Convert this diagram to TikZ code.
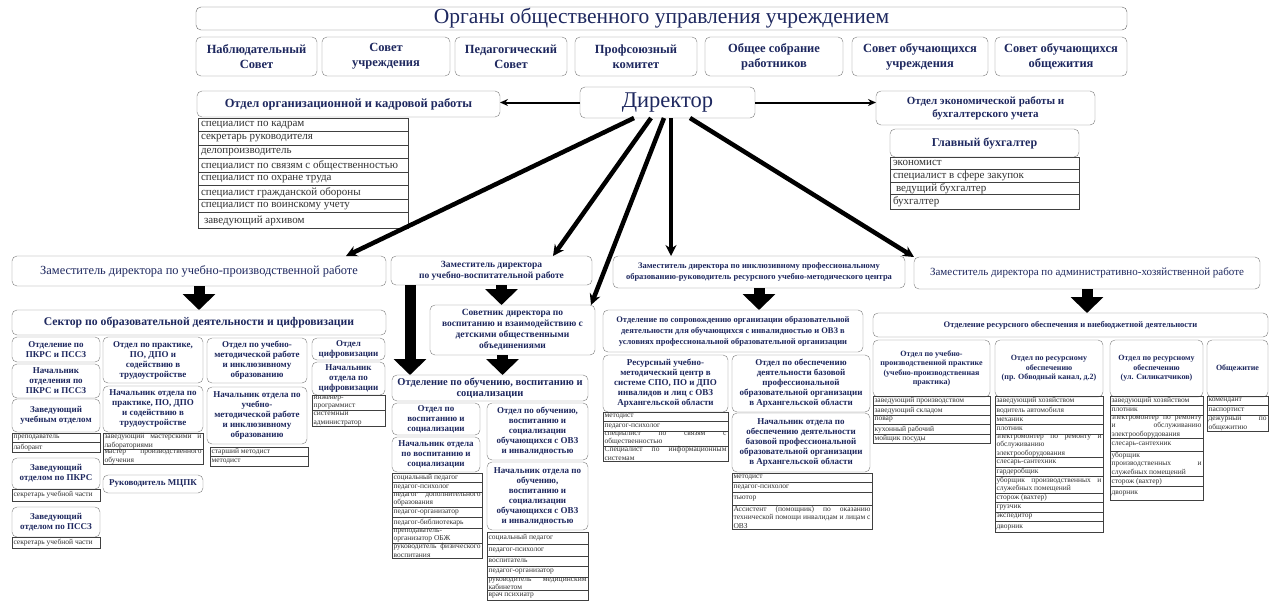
\documentclass[tikz,border=0pt]{standalone}
\usepackage{fontspec}
\setmainfont{Liberation Serif}
\usetikzlibrary{positioning,arrows.meta}
\definecolor{navy}{RGB}{30,40,95}
\definecolor{frame}{RGB}{125,125,125}
\definecolor{ink}{RGB}{50,50,50}
\newcommand{\fsz}[2]{\fontsize{#1}{#2}\selectfont}
\hyphenpenalty=10000

\begin{document}
\begin{tikzpicture}[x=1pt, y=-1pt]
	\tikzstyle{Block} = [draw=frame, rounded corners=5pt, fill=white, align=center, text=navy, font=\fsz{9}{10}\bfseries, inner sep=1pt, outer sep=0pt, anchor=north west]
	\tikzstyle{Gov} = [Block, minimum height=39pt, font=\fsz{12.5}{15}\bfseries]
	\tikzstyle{Hxs} = [Block, minimum height=57pt, font=\fsz{8}{9.5}\bfseries]
	\tikzstyle{Item} = [draw=black!75, align=justify, text=ink, font=\fsz{7.5}{8.4}, inner xsep=1.5pt, inner ysep=0.7pt, outer sep=0pt, minimum height=9.5pt, anchor=north west]
	\tikzstyle{TopItem} = [Item, font=\fsz{11}{12.5}, inner xsep=3pt, minimum height=13.5pt]
	\tikzstyle{Link} = [line width=4.5pt, -{Stealth[length=11pt, width=11pt]}]
	\tikzstyle{Side} = [line width=2pt, -{Stealth[length=8pt, width=7pt]}]
	\tikzstyle{Drop} = [line width=11pt, -{Triangle[length=16pt, width=32pt]}]
	\tikzset{bx/.style 2 args={minimum width=#1pt, minimum height=#2pt}}

	\fill[white] (0,0) rectangle (1274,606);
	\useasboundingbox (0,0) rectangle (1274,606);

	% governing bodies
	\node[name=organs, Block, bx={931}{23}, draw=black!60, font=\fsz{21.5}{22}] at (196,7) {Органы общественного управления учреждением};
	\node[name=nabl, Gov, minimum width=121pt] at (196,37) {Наблюдательный\\Совет};
	\node[name=sovu, Gov, minimum width=128pt] at (322,37) {Совет\\учреждения};
	\node[name=pedsov, Gov, minimum width=112pt] at (455,37) {Педагогический\\Совет};
	\node[name=prof, Gov, minimum width=122pt] at (575,37) {Профсоюзный\\комитет};
	\node[name=sobr, Gov, minimum width=138pt] at (705,37) {Общее собрание\\работников};
	\node[name=souch, Gov, minimum width=136pt] at (852,37) {Совет обучающихся\\учреждения};
	\node[name=soobsh, Gov, minimum width=132pt] at (995,37) {Совет обучающихся\\общежития};

	% director
	\node[name=dir, Block, bx={175}{31}, font=\fsz{22.5}{24}] at (580,87) {Директор};

	\node[name=kadry, Block, bx={303}{26}, font=\fsz{12.5}{14}\bfseries] at (197,91) {Отдел организационной и кадровой работы};
	\node[name=k1, TopItem, text width=204pt] at (198,118) {специалист по кадрам};
	\node[name=k2, TopItem, text width=204pt, below=0pt of k1] {секретарь руководителя};
	\node[name=k3, TopItem, text width=204pt, below=0pt of k2] {делопроизводитель};
	\node[name=k4, TopItem, text width=204pt, below=0pt of k3] {специалист по связям с общественностью};
	\node[name=k5, TopItem, text width=204pt, below=0pt of k4] {специалист по охране труда};
	\node[name=k6, TopItem, text width=204pt, below=0pt of k5] {специалист гражданской обороны};
	\node[name=k7, TopItem, text width=204pt, below=0pt of k6] {специалист по воинскому учету};
	\node[name=k8, TopItem, text width=204pt, minimum height=16pt, below=0pt of k7] {\hspace*{3pt}заведующий архивом};

	\node[name=econ, Block, bx={219}{34}, font=\fsz{11}{13}\bfseries] at (876,91) {Отдел экономической работы и\\бухгалтерского учета};
	\node[name=glavbuh, Block, bx={189}{28}, font=\fsz{12}{14}\bfseries] at (890,129) {Главный бухгалтер};
	\node[name=b1, TopItem, text width=183pt, minimum height=12.5pt] at (890,157) {экономист};
	\node[name=b2, TopItem, text width=183pt, minimum height=12.5pt, below=0pt of b1] {специалист в сфере закупок};
	\node[name=b3, TopItem, text width=183pt, minimum height=12.5pt, below=0pt of b2] {\hspace*{3pt}ведущий бухгалтер};
	\node[name=b4, TopItem, text width=183pt, minimum height=15pt, below=0pt of b3] {бухгалтер};

	\draw[Side] (dir.west) -- (dir.west -| kadry.east);
	\draw[Side] (dir.east) -- (dir.east -| econ.west);

	% deputies
	\node[name=zupr, Block, bx={374}{30}, font=\fsz{12.4}{14}\mdseries] at (12,256) {Заместитель директора по учебно-производственной работе};
	\node[name=zuvr, Block, bx={201}{29}, font=\fsz{9.5}{11}\bfseries] at (391,256) {Заместитель директора\\по учебно-воспитательной работе};
	\node[name=zinc, Block, bx={292}{32}, font=\fsz{8.5}{11}\bfseries] at (613,256) {Заместитель директора по инклюзивному профессиональному\\образованию-руководитель ресурсного учебно-методического центра};
	\node[name=zahr, Block, bx={346}{32}, font=\fsz{11}{13}\mdseries] at (914,257) {Заместитель директора по административно-хозяйственной работе};

	% sector of educational activity
	\node[name=sector, Block, bx={374}{25}, font=\fsz{11.7}{13}\bfseries] at (12,310) {Сектор по образовательной деятельности и цифровизации};

	\node[name=otdpk, Block, bx={88}{25}] at (12,337) {Отделение по\\ПКРС и ПССЗ};
	\node[name=natpk, Block, bx={88}{34}] at (12,364) {Начальник\\отделения по\\ПКРС и ПССЗ};
	\node[name=zavuch, Block, bx={88}{33}] at (12,399) {Заведующий\\учебным отделом};
	\node[name=prep, Item, text width=85pt] at (12,433) {преподаватель};
	\node[name=labor, Item, text width=85pt, below=0pt of prep] {лаборант};
	\node[name=zavpk, Block, bx={88}{31}] at (12,458) {Заведующий\\отделом по ПКРС};
	\node[name=sek1, Item, text width=85pt, minimum height=12pt] at (12,489) {секретарь учебной части};
	\node[name=zavps, Block, bx={88}{30}] at (12,507) {Заведующий\\отделом по ПССЗ};
	\node[name=sek2, Item, text width=85pt, minimum height=11pt] at (12,537) {секретарь учебной части};

	\node[name=otdprak, Block, bx={100}{46}] at (103,337) {Отдел по практике,\\ПО, ДПО и\\содействию в\\трудоустройстве};
	\node[name=natprak, Block, bx={100}{46}] at (103,386) {Начальник отдела по\\практике, ПО, ДПО\\и содействию в\\трудоустройстве};
	\node[name=zavmast, Item, text width=97pt] at (103,433) {заведующий мастерскими и лабораториями};
	\node[name=mastpo, Item, text width=97pt, below=0pt of zavmast] {мастер производственного обучения};
	\node[name=rukmc, Block, bx={100}{18}] at (103,475) {Руководитель МЦПК};

	\node[name=otdmet, Block, bx={100}{45}] at (207,338) {Отдел по учебно-\\методической работе\\и инклюзивному\\образованию};
	\node[name=natmet, Block, bx={100}{57}] at (207,387) {Начальник отдела по\\учебно-\\методической работе\\и инклюзивному\\образованию};
	\node[name=stmet, Item, text width=95pt] at (210,447) {старший методист};
	\node[name=metod, Item, text width=95pt, below=0pt of stmet] {методист};

	\node[name=otdcif, Block, bx={73}{22}] at (312,338) {Отдел\\цифровизации};
	\node[name=natcif, Block, bx={73}{33}] at (312,362) {Начальник\\отдела по\\цифровизации};
	\node[name=inzh, Item, text width=70pt] at (312,395) {инженер-\\программист};
	\node[name=sysadm, Item, text width=70pt, below=0pt of inzh] {системный\\администратор};

	% upbringing branch
	\node[name=sovetnik, Block, bx={165}{50}, font=\fsz{9.5}{11}\bfseries] at (430,305) {Советник директора по\\воспитанию и взаимодействию с\\детскими общественными\\объединениями};
	\node[name=otdobuch, Block, bx={196}{26}, font=\fsz{10.5}{11.5}\bfseries] at (392,375) {Отделение по обучению, воспитанию и\\социализации};
	\node[name=otdvos, Block, bx={88}{32}] at (392,403) {Отдел по\\воспитанию и\\социализации};
	\node[name=natvos, Block, bx={88}{35}] at (392,437) {Начальник отдела\\по воспитанию и\\социализации};
	\node[name=v1, Item, text width=87pt] at (392,473) {социальный педагог};
	\node[name=v2, Item, text width=87pt, below=0pt of v1] {педагог-психолог};
	\node[name=v3, Item, text width=87pt, below=0pt of v2] {педагог дополнительного образования};
	\node[name=v4, Item, text width=87pt, minimum height=10.5pt, below=0pt of v3] {педагог-организатор};
	\node[name=v5, Item, text width=87pt, minimum height=10.5pt, below=0pt of v4] {педагог-библиотекарь};
	\node[name=v6, Item, text width=87pt, below=0pt of v5] {преподаватель-организатор ОБЖ};
	\node[name=v7, Item, text width=87pt, below=0pt of v6] {руководитель физического воспитания};

	\node[name=otdovz, Block, bx={101}{57}] at (487,403) {Отдел по обучению,\\воспитанию и\\социализации\\обучающихся с ОВЗ\\и инвалидностью};
	\node[name=natovz, Block, bx={101}{68}] at (487,462) {Начальник отдела по\\обучению,\\воспитанию и\\социализации\\обучающихся с ОВЗ\\и инвалидностью};
	\node[name=o1, Item, text width=98pt, minimum height=12pt] at (487,532) {социальный педагог};
	\node[name=o2, Item, text width=98pt, minimum height=12pt, below=0pt of o1] {педагог-психолог};
	\node[name=o3, Item, text width=98pt, minimum height=10.5pt, below=0pt of o2] {воспитатель};
	\node[name=o4, Item, text width=98pt, minimum height=10.5pt, below=0pt of o3] {педагог-организатор};
	\node[name=o5, Item, text width=98pt, below=0pt of o4] {руководитель медицинским кабинетом};
	\node[name=o6, Item, text width=98pt, below=0pt of o5] {врач психиатр};

	% inclusive branch
	\node[name=otdsop, Block, bx={260}{42}, font=\fsz{8.5}{11}\bfseries] at (603,310) {Отделение по сопровождению организации образовательной\\деятельности для обучающихся с инвалидностью и ОВЗ в\\условиях профессиональной образовательной организации};
	\node[name=resc, Block, bx={125}{57}] at (603,355) {Ресурсный учебно-\\методический центр в\\системе СПО, ПО и ДПО\\инвалидов и лиц с ОВЗ\\Архангельской области};
	\node[name=r1, Item, text width=122pt] at (603,412) {методист};
	\node[name=r2, Item, text width=122pt, below=0pt of r1] {педагог-психолог};
	\node[name=r3, Item, text width=122pt, below=0pt of r2] {специалист по связям с общественностью};
	\node[name=r4, Item, text width=122pt, below=0pt of r3] {Специалист по информационным системам};

	\node[name=otdbaz, Block, bx={138}{57}] at (732,355) {Отдел по обеспечению\\деятельности базовой\\профессиональной\\образовательной организации\\в Архангельской области};
	\node[name=natbaz, Block, bx={138}{59}] at (732,413) {Начальник отдела по\\обеспечению деятельности\\базовой профессиональной\\образовательной организации\\в Архангельской области};
	\node[name=p1, Item, text width=137pt] at (732,473) {методист};
	\node[name=p2, Item, text width=137pt, minimum height=10pt, below=0pt of p1] {педагог-психолог};
	\node[name=p3, Item, text width=137pt, minimum height=13pt, below=0pt of p2] {тьютор};
	\node[name=p4, Item, text width=137pt, below=0pt of p3] {Ассистент (помощник) по оказанию технической помощи инвалидам и лицам с ОВЗ};

	% resource branch
	\node[name=otdres, Block, bx={395}{24}, font=\fsz{8.5}{10}\bfseries] at (873,313) {Отделение ресурсного обеспечения и внебюджетной деятельности};
	\node[name=otdupp, Hxs, minimum width=117pt] at (873,340) {Отдел по учебно-\\производственной практике\\(учебно-производственная\\практика)};
	\node[name=otdobv, Hxs, minimum width=108pt] at (995,340) {Отдел по ресурсному\\обеспечению\\(пр. Обводный канал, д.2)};
	\node[name=otdsil, Hxs, minimum width=93pt] at (1110,340) {Отдел по ресурсному\\обеспечению\\(ул. Силикатчиков)};
	\node[name=obshezh, Hxs, minimum width=61pt] at (1207,340) {Общежитие};

	\node[name=a1, Item, text width=114pt] at (873,396) {заведующий производством};
	\node[name=a2, Item, text width=114pt, below=0pt of a1] {заведующий складом};
	\node[name=a3, Item, text width=114pt, below=0pt of a2] {повар};
	\node[name=a4, Item, text width=114pt, below=0pt of a3] {кухонный рабочий};
	\node[name=a5, Item, text width=114pt, below=0pt of a4] {мойщик посуды};

	\node[name=c1, Item, text width=105pt] at (995,396) {заведующий хозяйством};
	\node[name=c2, Item, text width=105pt, below=0pt of c1] {водитель автомобиля};
	\node[name=c3, Item, text width=105pt, below=0pt of c2] {механик};
	\node[name=c4, Item, text width=105pt, below=0pt of c3] {плотник};
	\node[name=c5, Item, text width=105pt, below=0pt of c4] {электромонтер по ремонту и\linebreak обслуживанию\\электрооборудования};
	\node[name=c6, Item, text width=105pt, below=0pt of c5] {слесарь-сантехник};
	\node[name=c7, Item, text width=105pt, below=0pt of c6] {гардеробщик};
	\node[name=c8, Item, text width=105pt, below=0pt of c7] {уборщик производственных и\linebreak служебных помещений};
	\node[name=c9, Item, text width=105pt, below=0pt of c8] {сторож (вахтер)};
	\node[name=c10, Item, text width=105pt, below=0pt of c9] {грузчик};
	\node[name=c11, Item, text width=105pt, below=0pt of c10] {экспедитор};
	\node[name=c12, Item, text width=105pt, minimum height=11pt, below=0pt of c11] {дворник};

	\node[name=s1, Item, text width=90pt] at (1110,396) {заведующий хозяйством};
	\node[name=s2, Item, text width=90pt, below=0pt of s1] {плотник};
	\node[name=s3, Item, text width=90pt, below=0pt of s2] {электромонтер по ремонту\linebreak и обслуживанию\linebreak электрооборудования};
	\node[name=s4, Item, text width=90pt, minimum height=13pt, below=0pt of s3] {слесарь-сантехник};
	\node[name=s5, Item, text width=90pt, below=0pt of s4] {уборщик\linebreak производственных и\linebreak служебных помещений};
	\node[name=s6, Item, text width=90pt, below=0pt of s5] {сторож (вахтер)};
	\node[name=s7, Item, text width=90pt, minimum height=14pt, below=0pt of s6] {дворник};

	\node[name=h1, Item, text width=58pt] at (1207,396) {комендант};
	\node[name=h2, Item, text width=58pt, below=0pt of h1] {паспортист};
	\node[name=h3, Item, text width=58pt, below=0pt of h2] {дежурный по общежитию};

	% director to deputies
	\draw[Link] ([xshift=54pt]dir.south west) -- ([xshift=-40pt]zupr.north east);
	\draw[Link] ([xshift=71pt]dir.south west) -- ([xshift=-39pt]zuvr.north east);
	\draw[Link] ([xshift=84pt]dir.south west) -- ([xshift=-4pt]sovetnik.north east);
	\draw[Link] ([xshift=91pt]dir.south west) -- ([xshift=91pt]dir.south west |- zinc.north);
	\draw[Link] ([xshift=110pt]dir.south west) -- (zahr.north west);

	% block arrows
	\draw[Drop] (zupr.south) -- (sector.north);
	\draw[Drop] ([xshift=10pt]zuvr.south) -- ([xshift=10pt]zuvr.south |- sovetnik.north);
	\draw[Drop] ([xshift=19pt]zuvr.south west) -- ([xshift=19pt]zuvr.south west |- otdobuch.north);
	\draw[Drop] ([xshift=-10pt]sovetnik.south) -- ([xshift=-10pt]sovetnik.south |- otdobuch.north);
	\draw[Drop] (zinc.south) -- (zinc.south |- otdsop.north);
	\draw[Drop] (zahr.south) -- (zahr.south |- otdres.north);
\end{tikzpicture}
\end{document}
